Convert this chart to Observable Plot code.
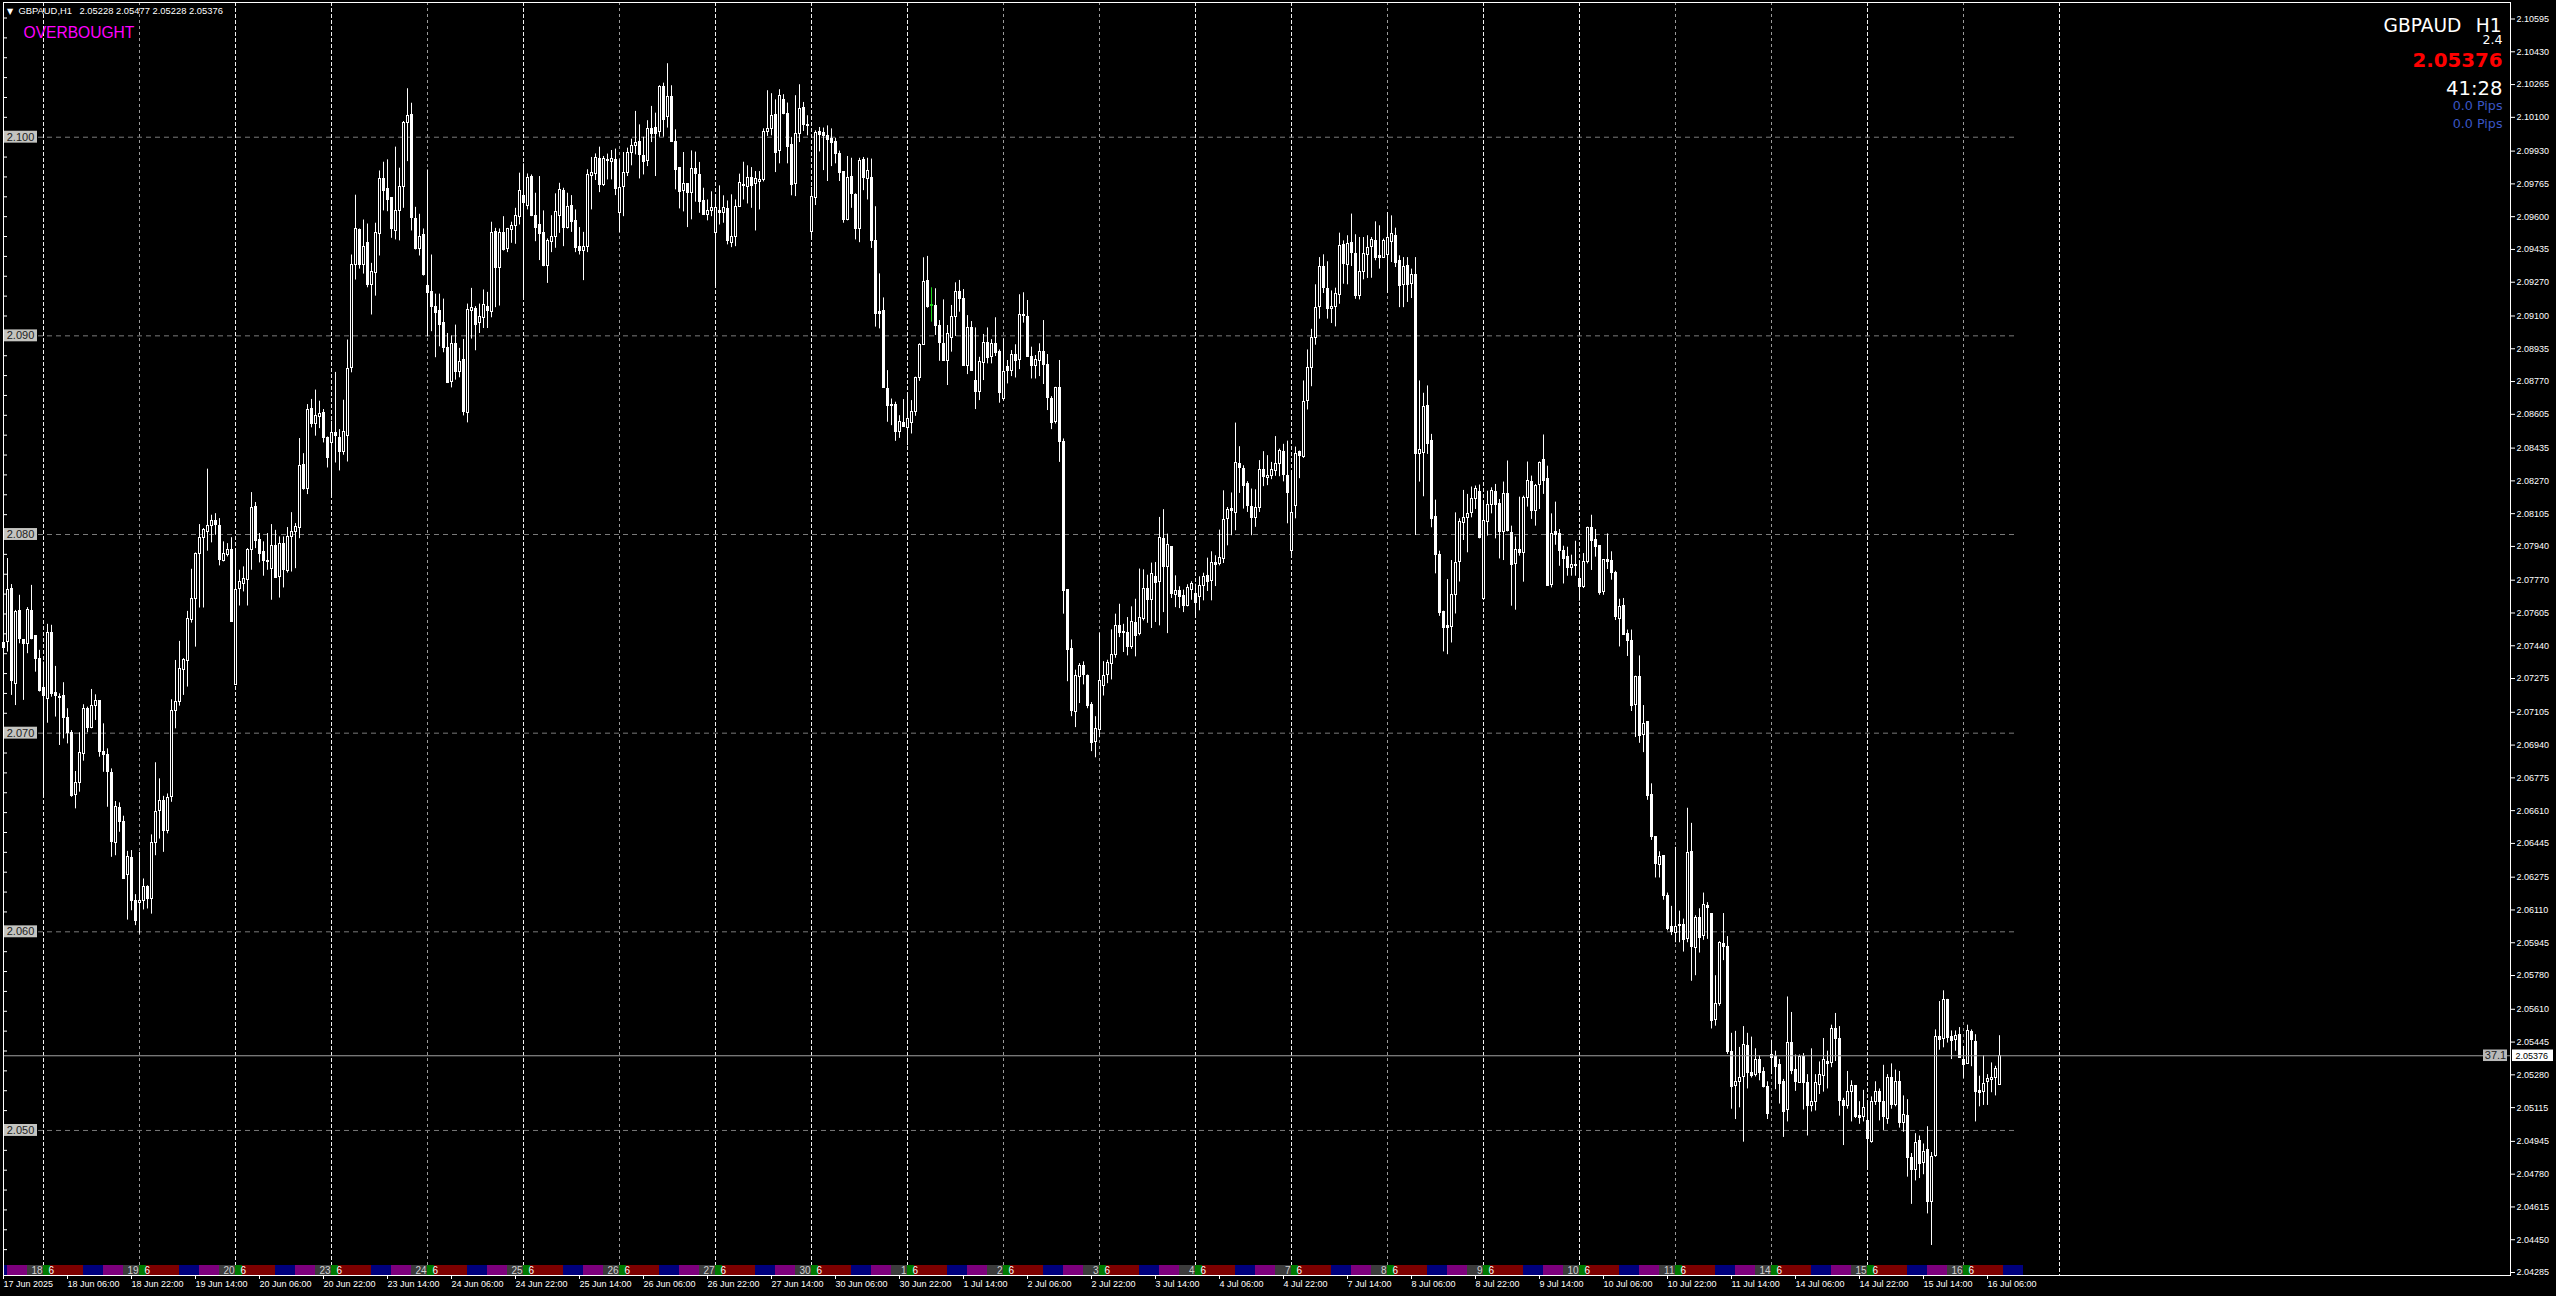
<!DOCTYPE html>
<html><head><meta charset="utf-8">
<script src="https://cdn.jsdelivr.net/npm/d3@7"></script>
<script src="https://cdn.jsdelivr.net/npm/@observablehq/plot@0.6"></script>
<style>html,body{margin:0;padding:0;background:#000;overflow:hidden}svg{display:block}</style>
</head><body><div id="chart"></div>
<script>
// Prices are held as points above 2.00000 (1 point = 0.00001)
const highs = [7526,7879,7748,7618,7694,7470,7632,7744,7487,7417,
7358,7548,7543,7336,7198,7254,7123,7013,6807,7002,
7143,7131,7220,7193,7163,7047,6921,6820,6656,6649,
6582,6405,6409,6187,6400,6266,6232,6488,6851,6770,
6682,6694,7168,7366,7462,7375,7613,7825,7907,8050,
8030,8329,8097,8105,8080,7963,7954,7984,7929,7820,
7837,7929,8211,8161,8005,7963,8005,8050,8021,7988,
7988,8035,8110,8055,8483,8407,8654,8680,8727,8671,
8629,8491,8570,8816,8528,8676,8979,9407,9708,9538,
9583,9563,9365,9567,9830,9874,9886,9693,9950,9844,
10079,10244,10171,9647,9612,9538,9835,9407,9210,9210,
9185,9012,9000,9054,8937,8982,9160,9239,9147,9160,
9231,9219,9572,9541,9538,9600,9541,9572,9642,9819,
9866,9815,9810,9718,9802,9629,9488,9605,9715,9768,
9743,9718,9706,9634,9545,9521,9836,9898,9916,9950,
9903,9915,9933,9940,9886,9923,9945,9990,10130,10062,
10000,10083,10155,10121,10259,10272,10370,10259,10037,9846,
9923,9765,9931,9925,9873,9743,9684,9725,9710,9755,
9705,9679,9710,9684,9814,9874,9856,9847,9827,9827,
10042,10234,10219,10188,10239,10214,10172,9999,10209,10264,
10175,10108,9747,10032,10049,10046,10057,10042,9995,9930,
9827,9903,9894,9715,9894,9898,9894,9890,9650,9312,
9191,8825,8682,8666,8598,8679,8713,8674,8792,8960,
9393,9400,9242,9237,9077,9181,9052,9153,9267,9279,
9233,9102,9072,9040,8892,9007,9040,8981,9091,8929,
8985,8876,8926,8955,9207,9217,9178,8943,8901,8960,
9077,8906,8694,8741,8876,8481,7721,7469,7317,7350,
7359,7293,7154,7083,7503,7360,7367,7520,7599,7649,
7548,7582,7636,7674,7826,7822,7795,7856,7859,8086,
8125,8002,7936,7792,7737,7720,7747,7762,7750,7787,
7805,7881,7913,7893,8022,8220,8136,8209,8561,8442,
8346,8266,8229,8225,8372,8417,8397,8363,8493,8430,
8454,8470,8319,8440,8420,8773,8929,9033,9257,9394,
9408,9373,9226,9240,9517,9478,9504,9613,9509,9495,
9495,9504,9495,9574,9554,9487,9621,9604,9542,9403,
9394,9394,9336,9394,8773,8711,8748,8504,8173,7916,
7614,7773,7869,8109,8079,8222,8202,8239,8244,8249,
8168,8218,8235,8252,8176,8264,8370,8042,7987,8188,
8193,8365,8294,8252,8365,8501,8344,8104,8163,8025,
7941,7936,7896,7966,7866,7904,8037,8097,8025,7941,
7874,8003,7913,7815,7674,7678,7519,7519,7287,7389,
7139,7054,6745,6479,6403,6384,6195,6128,6425,6104,
6064,6622,6546,6081,6116,6195,6147,6092,5779,5950,
6092,5976,5489,5499,5418,5523,5489,5470,5411,5376,
5316,5245,5454,5399,5357,5257,5672,5594,5380,5380,
5387,5281,5411,5281,5345,5463,5399,5530,5589,5523,
5162,5297,5250,5224,5145,5202,5138,5169,5245,5209,
5328,5281,5335,5304,5297,5174,5155,4884,4984,4972,
4932,5019,4889,5506,5649,5703,5660,5501,5501,5518,
5423,5530,5506,5482,5273,5376,5281,5340,5323,5477];
const bodyTops = [7455,7722,7727,7608,7613,7470,7622,7613,7487,7375,
7225,7506,7506,7203,7181,7185,7077,7003,6750,6901,
7123,7123,7138,7161,7163,6906,6891,6800,6630,6624,
6555,6375,6372,6153,6153,6224,6227,6447,6602,6657,
6661,6672,7111,7156,7324,7366,7576,7677,7900,7984,
8025,8042,8070,8067,8045,7904,7924,7924,7722,7763,
7778,7921,8131,8136,7971,7911,7869,7944,7944,7954,
7951,7988,8013,8040,8345,8352,8629,8634,8596,8609,
8614,8488,8513,8513,8488,8517,8834,9355,9536,9533,
9449,9466,9320,9516,9788,9790,9738,9693,9627,9751,
10071,10109,10113,9587,9499,9506,9251,9221,9143,9125,
9063,8937,8957,8957,8866,8878,9128,9138,9135,9093,
9153,9147,9520,9521,9520,9516,9536,9553,9604,9730,
9705,9794,9800,9604,9558,9518,9478,9496,9622,9733,
9730,9649,9654,9577,9446,9446,9809,9819,9894,9889,
9889,9884,9889,9886,9743,9819,9923,9958,9973,9977,
9906,10041,10041,10046,10252,10252,10202,10202,9975,9846,
9763,9763,9839,9841,9810,9678,9627,9642,9642,9629,
9642,9639,9498,9651,9768,9758,9794,9795,9789,9784,
10025,10041,10106,10113,10207,10188,10118,9962,10015,10141,
10146,10062,9698,10020,10025,10020,10007,9992,9977,9916,
9826,9794,9799,9710,9879,9886,9831,9795,9480,9118,
9123,8734,8654,8654,8565,8561,8582,8615,8788,8955,
9272,9274,9153,9148,9052,8961,9007,9096,9222,9222,
9186,9040,9040,8773,8867,8965,8965,8960,8960,8919,
8818,8844,8904,8906,9106,9106,9097,8896,8879,8918,
8919,8855,8684,8738,8738,8467,7721,7422,7286,7337,
7338,7288,7140,7019,7261,7286,7352,7392,7538,7538,
7510,7505,7558,7553,7579,7725,7726,7800,7787,7982,
7977,7945,7936,7718,7716,7691,7730,7750,7700,7740,
7784,7790,7856,7856,7881,8073,8123,8128,8360,8355,
8330,8254,8138,8133,8325,8325,8293,8325,8355,8420,
8417,8294,8109,8403,8415,8669,8840,8988,9142,9347,
9347,9235,9147,9210,9452,9457,9462,9467,9411,9320,
9411,9443,9482,9478,9403,9475,9492,9512,9504,9378,
9347,9351,9307,9307,8423,8642,8647,8470,8087,7899,
7609,7538,7693,7859,8062,8084,8101,8181,8227,8213,
8066,8148,8217,8212,8153,8202,8202,8010,7924,7924,
8186,8267,8264,8244,8361,8373,8279,8005,8012,8002,
7916,7886,7844,7844,7775,7861,8035,8032,7970,7941,
7874,7874,7866,7807,7637,7638,7500,7462,7282,7282,
7047,7054,6691,6479,6377,6380,6178,6026,6024,6036,
6036,6399,6403,6069,6071,6135,6128,6092,5639,5943,
5938,5922,5394,5243,5262,5428,5423,5288,5357,5357,
5292,5221,5380,5368,5328,5245,5442,5440,5304,5368,
5368,5238,5145,5238,5281,5357,5347,5513,5513,5459,
5150,5193,5226,5224,5074,5114,5050,5145,5193,5193,
5145,5262,5262,5245,5245,5079,5074,4860,4936,4948,
4894,4901,4865,5468,5468,5656,5658,5468,5478,5482,
5357,5499,5494,5447,5197,5236,5257,5266,5309,5376];
const bodyBottoms = [7430,7459,7262,7249,7472,7447,7450,7475,7371,7212,
7186,7173,7195,7185,7176,7076,7000,6686,6689,6750,
6896,7025,7025,7139,6904,6889,6803,6451,6446,6551,
6266,6286,6153,6056,6143,6153,6163,6163,6447,6607,
6506,6509,6677,7111,7156,7319,7363,7568,7677,7900,
7984,8013,8043,8047,7870,7867,7895,7559,7244,7726,
7753,7773,7921,7968,7900,7867,7860,7828,7783,7786,
7820,7816,7988,8013,8033,8231,8231,8554,8555,8592,
8486,8386,8463,8496,8416,8416,8498,8839,9358,9357,
9358,9257,9257,9315,9511,9731,9684,9536,9530,9627,
9751,10074,9595,9437,9437,9306,9217,9147,9116,9054,
8940,8765,8769,8817,8817,8617,8612,9123,9054,9066,
9088,9125,9121,9343,9343,9432,9437,9533,9555,9600,
9668,9656,9604,9545,9515,9352,9353,9474,9500,9605,
9545,9545,9575,9444,9427,9429,9449,9807,9815,9760,
9760,9879,9873,9737,9617,9747,9819,9923,9958,9908,
9873,9878,10017,10017,10024,10088,10104,9978,9836,9726,
9730,9721,9721,9815,9676,9609,9610,9631,9516,9616,
9616,9478,9469,9500,9651,9755,9747,9752,9762,9772,
9785,10027,10041,9923,9933,10118,9953,9760,9763,10015,
10062,10054,9525,9696,10012,10007,9987,9973,9913,9822,
9584,9584,9713,9538,9537,9797,9792,9480,9111,9109,
8736,8645,8645,8518,8514,8540,8536,8560,8615,8788,
8955,9144,9149,9052,8963,8872,8874,8990,9096,9185,
8847,8850,8822,8716,8716,8864,8889,8892,8916,8711,
8682,8822,8822,8872,8876,9099,8896,8847,8847,8872,
8852,8686,8560,8565,8464,7716,7421,7112,7108,7285,
7293,7137,6952,6957,7014,7238,7291,7350,7394,7505,
7505,7434,7434,7490,7498,7577,7668,7668,7757,7763,
7834,7834,7700,7698,7686,7641,7641,7723,7653,7683,
7740,7763,7767,7849,7851,7879,8076,8116,8108,8333,
8246,8141,8081,8081,8133,8288,8283,8293,8321,8355,
8302,8210,7916,8146,8395,8391,8672,8840,8988,9147,
9240,9137,9137,9147,9205,9361,9356,9415,9201,9201,
9320,9406,9445,9394,9394,9394,9408,9470,9369,9252,
9257,9257,9260,8407,8407,8412,8457,8079,7899,7605,
7530,7530,7535,7693,7862,8059,8084,8106,8180,7983,
7676,8062,8151,8150,8013,8013,8017,7849,7852,7908,
7908,8185,8118,8118,8247,8269,7740,7748,7997,7916,
7879,7832,7832,7840,7738,7735,7861,7966,7936,7706,
7711,7862,7807,7583,7575,7495,7462,7139,7144,6985,
6990,6686,6475,6342,6337,6178,6014,5997,5993,6028,
5957,5964,5922,5917,5971,5981,6119,5549,5554,5637,
5922,5394,5221,5226,5245,5269,5288,5276,5281,5288,
5221,5084,5364,5321,5233,5095,5103,5297,5245,5240,
5238,5122,5122,5145,5228,5273,5333,5340,5459,5150,
5122,5122,5193,5067,5062,5067,4955,4941,5145,5145,
5067,5060,5126,5126,5038,5036,4860,4799,4799,4829,
4837,4642,4642,4870,5454,5459,5466,5449,5454,5364,
5328,5335,5454,5193,5190,5193,5243,5254,5264,5231];
const lows = [7341,7408,7190,7139,7450,7165,7400,7470,7307,7207,
6677,7050,7181,7081,6938,6971,6946,6677,6619,6703,
6859,7002,7022,7064,6879,6803,6627,6375,6383,6501,
6266,6059,6106,6031,5989,6110,6115,6089,6383,6467,
6400,6493,6652,7022,7136,7190,7232,7554,7433,7630,
7630,7916,7958,7996,7842,7862,7887,7559,7240,7640,
7711,7640,7820,7929,7857,7790,7820,7669,7783,7680,
7731,7806,7811,7828,7979,8223,8201,8537,8495,8533,
8461,8335,8189,8360,8320,8399,8365,8814,9281,9336,
9311,9242,9105,9200,9402,9629,9625,9491,9483,9478,
9642,9877,9528,9432,9402,9301,8995,9021,8890,8945,
8915,8760,8738,8777,8789,8597,8562,8984,8925,9012,
9037,9037,9091,9142,9150,9427,9419,9466,9461,9558,
9189,9634,9600,9474,9379,9348,9264,9419,9441,9516,
9449,9538,9521,9419,9407,9278,9419,9634,9782,9721,
9752,9785,9785,9706,9520,9600,9802,9856,9911,9790,
9810,9852,9973,9802,10000,10000,10046,9978,9735,9639,
9624,9545,9584,9673,9617,9609,9579,9600,9248,9558,
9567,9458,9444,9449,9651,9684,9664,9642,9528,9634,
9775,10004,10007,9822,9866,10113,9866,9705,9701,9973,
10029,10007,9491,9656,9926,9832,9777,9852,9866,9777,
9567,9579,9642,9483,9469,9731,9684,9440,9044,9035,
8736,8565,8548,8469,8484,8540,8447,8506,8595,8771,
8955,9139,9069,9002,8872,8872,8750,8918,8997,9119,
8847,8805,8822,8629,8674,8775,8859,8859,8896,8661,
8671,8758,8795,8788,8830,9064,8892,8783,8783,8795,
8755,8624,8528,8556,8363,7599,7259,7083,7028,7149,
7243,7123,6907,6876,6977,7187,7249,7268,7377,7481,
7406,7389,7422,7384,7490,7565,7553,7527,7557,7540,
7607,7501,7678,7632,7627,7607,7636,7669,7577,7616,
7666,7713,7666,7738,7842,7854,7943,7994,8019,8207,
8128,8111,7994,8036,8111,8241,8246,8276,8293,8291,
8265,8054,7899,8079,8281,8383,8627,8744,8953,9084,
9213,9084,9062,9045,9159,9260,9257,9349,9184,9181,
9282,9289,9290,9378,9336,9391,9213,9369,9344,9142,
9142,9168,9188,7995,8264,8190,8403,8034,7802,7588,
7409,7395,7454,7600,7761,7970,7908,8084,8126,7978,
7669,7992,8104,7978,7877,7869,8013,7639,7619,7891,
7760,8138,8076,8042,8126,8202,7740,7731,7946,7840,
7751,7790,7790,7790,7664,7728,7852,7819,7886,7694,
7694,7824,7770,7567,7434,7493,7386,7109,6978,6949,
6902,6662,6460,6271,6271,6159,6005,5981,5945,5945,
5898,5945,5751,5779,5893,5957,5962,5511,5525,5625,
5855,5383,5107,5055,5114,4941,5209,5264,5269,5250,
5214,5055,5281,5205,5133,4965,5043,5281,5197,5238,
5103,4972,5093,5098,5181,5193,5209,5316,5347,5072,
4924,5107,5043,5060,5031,5043,4801,4936,5126,5048,
5000,5031,5107,5119,5012,4991,4765,4628,4746,4758,
4777,4580,4421,4865,5404,5416,5440,5357,5399,5364,
5262,5333,5321,5043,5119,5126,5126,5190,5174,5228];
// h = hollow (bull), f = filled (bear), g = the one green candle
const kinds = ("hhfhffhfff"+"fhffffffhh"+"hfhhffffhf"+"fhffhhfhhh"+"fhhhhhhhhh"+"hhhffhhfhh"+"hhhffffhfh"+"fhhhhfhfhh"+"ffhffhhhhf"+"hfhhhfffhh"
+"hhffhfffff"+"ffhfhfhhfh"+"hfhfhfhhhh"+"fhffffhhhh"+"fhfffhhhhf"+"hfhfhhhhhf"+"fhffhfhfff"+"hfhfffhhhf"+"hfhhhfhfhh"+"hhhfhfffhh"
+"ffhhffffff"+"fhffhfhfff"+"ffffhfhhhh"+"hfgfffhhhf"+"fhffhhfhff"+"hfhfhhffhh"+"fffhffffhh"+"fffhhhhhhf"+"ffhfhhfhfh"+"fhfhffhhfh"
+"hfhfhhhfhf"+"fffhhfhhhh"+"ffhhfhhhhh"+"ffhhhfhffh"+"hhhffhhhff"+"hfhfhhffff"+"ffhhhhhhhf"+"hhhffhffhf"+"hhfhhffhff"+"ffhffhhfff"
+"hfffhfffhf"+"hfffhfffhf"+"fhfhfhffhh"+"fffhhhffhf"+"ffffffhffh"+"ffhhhhfhff"+"fhhffhfhhf"+"fhfhfhffhf"+"hfhhfhffhf"+"fhfffhhhhh");

const priceTicks = [2.10595,2.10430,2.10265,2.10100,2.09930,2.09765,2.09600,2.09435,2.09270,2.09100,2.08935,2.08770,2.08605,2.08435,2.08270,2.08105,2.07940,2.07770,2.07605,2.07440,2.07275,2.07105,2.06940,2.06775,2.06610,2.06445,2.06275,2.06110,2.05945,2.05780,2.05610,2.05445,2.05280,2.05115,2.04945,2.04780,2.04615,2.04450,2.04285];
const timeLabels = ["17 Jun 2025","18 Jun 06:00","18 Jun 22:00","19 Jun 14:00","20 Jun 06:00","20 Jun 22:00","23 Jun 14:00","24 Jun 06:00","24 Jun 22:00","25 Jun 14:00","26 Jun 06:00","26 Jun 22:00","27 Jun 14:00","30 Jun 06:00","30 Jun 22:00","1 Jul 14:00","2 Jul 06:00","2 Jul 22:00","3 Jul 14:00","4 Jul 06:00","4 Jul 22:00","7 Jul 14:00","8 Jul 06:00","8 Jul 22:00","9 Jul 14:00","10 Jul 06:00","10 Jul 22:00","11 Jul 14:00","14 Jul 06:00","14 Jul 22:00","15 Jul 14:00","16 Jul 06:00"];
const gridLevels = [2.10,2.09,2.08,2.07,2.06,2.05];
const minorLevels = [2.106,2.105,2.104,2.103,2.102,2.101,2.099,2.098,2.097,2.096,2.095,2.094,2.093,2.092,2.091,2.089,2.088,2.087,2.086,2.085,2.084,2.083,2.082,2.081,2.079,2.078,2.077,2.076,2.075,2.074,2.073,2.072,2.071,2.069,2.068,2.067,2.066,2.065,2.064,2.063,2.062,2.061,2.059,2.058,2.057,2.056,2.055,2.054,2.053,2.052,2.051,2.049,2.048,2.047,2.046,2.045,2.044,2.043];
const gridBarsBright = [10,58,82,130,178,202,226,298,322,370,394,466,514];
const gridBarsDim = [34,106,154,250,274,346,418,442,490];
const dayLabels = ["18","19","20","23","24","25","26","27","30","1","2","3","4","7","8","9","10","11","14","15","16"];
const monthLabels = ["6","6","6","6","6","6","6","6","6","6","6","6","6","6","6","6","6","6","6","6","6"];
const sessionColors = ["#007a00","#7d0000","#00007d","#7d007d","#3c3c3c"];
const sessionBars = [1.75,8.25,5,5,4];
const lastPrice = 2.05376;
const lastOHLC = "2.05228 2.05477 2.05228 2.05376";

const toPrice = v => 2 + v / 1e5;
const bars = highs.map((h, i) => ({i, kind: kinds[i], high: toPrice(h), low: toPrice(lows[i]), top: toPrice(bodyTops[i]), bottom: toPrice(bodyBottoms[i])}));

const xMax = 626.75;
const yDomain = [2.042699, 2.106781];
const bandTop = 2.0432, bandBottom = yDomain[0], bandMid = (bandTop + bandBottom) / 2;
const dayBars = dayLabels.map((_, n) => 10 + 24 * n);

// session colour strip along the bottom of the chart
const segments = [{a: 0, b: 1, c: sessionColors[2]}, {a: 1, b: 6, c: sessionColors[3]}, {a: 6, b: 10, c: sessionColors[4]}];
dayBars.forEach((start, n) => {
  let a = start;
  sessionColors.forEach((c, s) => {
    const b = a + sessionBars[s];
    if (n < dayBars.length - 1 || s < 3) segments.push({a, b, c});
    a = b;
  });
});

const FONT = "Liberation Sans";
const DJ = "DejaVu Sans";
const note = (text, fa, dx, dy, o) => Plot.text([text], {text: d => d, frameAnchor: fa, dx, dy, lineAnchor: "middle", fill: "white", ...o});

const chart = Plot.plot({
  width: 2556, height: 1296,
  marginLeft: 3, marginRight: 46, marginTop: 2, marginBottom: 21,
  style: {background: "#000", fontFamily: FONT, fontSize: "9px"},
  x: {domain: [0, xMax], axis: null},
  y: {domain: yDomain, axis: null},
  marks: [
    // grids
    Plot.ruleX(gridBarsDim, {stroke: "#9a9a9a", strokeDasharray: "3,3"}),
    Plot.ruleX(gridBarsBright, {stroke: "#f0f0f0", strokeDasharray: "4,2"}),
    Plot.ruleY(gridLevels, {x1: 8.75, x2: 503.25, stroke: "#7a7a7a", strokeDasharray: "5,4"}),
    // left scale ticks
    Plot.ruleY(minorLevels, {x1: 0, x2: 1, stroke: "white"}),
    // session strip
    Plot.rect(segments, {x1: "a", x2: "b", y1: bandBottom, y2: bandTop, fill: "c", shapeRendering: "crispEdges"}),
    Plot.text(dayBars, {x: d => d, y: bandMid, text: (d, i) => dayLabels[i], textAnchor: "end", fill: "#d0d0d0", dx: -1, fontSize: 10}),
    Plot.text(dayBars, {x: d => d + 1.25, y: bandMid, text: (d, i) => monthLabels[i], textAnchor: "start", fill: "white", fontSize: 10}),
    // wicks
    Plot.ruleX(bars.filter(d => d.kind !== "g"), {x: "i", y1: "low", y2: "high", stroke: "white"}),
    Plot.ruleX(bars.filter(d => d.kind === "g"), {x: "i", y1: "low", y2: "high", stroke: "#19d619"}),
    // bodies
    Plot.rect(bars.filter(d => d.kind === "h"), {x1: d => d.i - 0.125, x2: d => d.i + 0.375, y1: "bottom", y2: "top", fill: "black", stroke: "white", shapeRendering: "crispEdges"}),
    Plot.rect(bars.filter(d => d.kind === "f"), {x1: d => d.i - 0.125, x2: d => d.i + 0.375, y1: "bottom", y2: "top", fill: "white", stroke: "white", shapeRendering: "crispEdges"}),
    Plot.rect(bars.filter(d => d.kind === "g"), {x1: d => d.i - 0.125, x2: d => d.i + 0.375, y1: "bottom", y2: "top", fill: "#19d619", stroke: "#19d619", shapeRendering: "crispEdges"}),
    // current price line
    Plot.ruleY([lastPrice], {x1: 0, x2: xMax, stroke: "#a3a3a3"}),
    Plot.rect([lastPrice], {x1: 620, x2: 626, y1: d => d - 0.00029, y2: d => d + 0.00029, fill: "#b9b9b9"}),
    Plot.text(["37.1"], {x: 623, y: lastPrice, text: d => d, fill: "#222", fontSize: 11}),
    Plot.rect([lastPrice], {x1: 627.25, x2: 637.5, y1: d => d - 0.00029, y2: d => d + 0.00029, fill: "white"}),
    Plot.text([lastPrice], {x: 627.75, y: d => d, text: d => d.toFixed(5), textAnchor: "start", fill: "black", dx: 1}),
    // left level badges
    Plot.rect(gridLevels, {x1: 0, x2: 8.5, y1: d => d - 0.0003, y2: d => d + 0.0003, fill: "#c4c4c0"}),
    Plot.text(gridLevels, {x: 4.25, y: d => d, text: d => d.toFixed(3), fill: "#222", fontSize: 11}),
    // axes
    Plot.axisY(priceTicks, {anchor: "right", tickSize: 4, tickPadding: 2, tickFormat: d => d.toFixed(5), stroke: "white", fill: "white", fontSize: 9, fontFamily: FONT}),
    Plot.axisX(timeLabels.map((_, i) => i * 16), {anchor: "bottom", tickSize: 4, tickPadding: 1, tickFormat: d => timeLabels[d / 16], textAnchor: "start", stroke: "white", fill: "white", fontSize: 9, fontFamily: FONT}),
    Plot.frame({stroke: "white"}),
    // header
    note("▼", "top-left", 6.5, 9, {fontSize: 8, fontFamily: DJ, textAnchor: "middle"}),
    note("GBPAUD,H1", "top-left", 15, 8.5, {textAnchor: "start", fontSize: 9.4}),
    note(lastOHLC, "top-left", 76, 8.5, {textAnchor: "start", fontSize: 9.4}),
    note("OVERBOUGHT", "top-left", 20, 30, {textAnchor: "start", fontSize: 15.6, fill: "#ff00ff"}),
    // top-right info panel
    note("GBPAUD", "top-right", -127, 24, {textAnchor: "start", fontSize: 18.6, fontFamily: DJ}),
    note("H1", "top-right", -9, 24, {textAnchor: "end", fontSize: 18.6, fontFamily: DJ}),
    note("2.4", "top-right", -8, 37.5, {textAnchor: "end", fontSize: 12.6, fontFamily: DJ}),
    note("2.05376", "top-right", -8, 58, {textAnchor: "end", fontSize: 19.8, fontWeight: "bold", fontFamily: DJ, fill: "#ff0000"}),
    note("41:28", "top-right", -8, 86.5, {textAnchor: "end", fontSize: 19.6, fontFamily: DJ}),
    note("0.0 Pips", "top-right", -8, 103.5, {textAnchor: "end", fontSize: 12.7, fontFamily: DJ, fill: "#3a56c4"}),
    note("0.0 Pips", "top-right", -8, 121.5, {textAnchor: "end", fontSize: 12.7, fontFamily: DJ, fill: "#3a56c4"})
  ]
});
document.getElementById("chart").appendChild(chart);
</script>
</body></html>
